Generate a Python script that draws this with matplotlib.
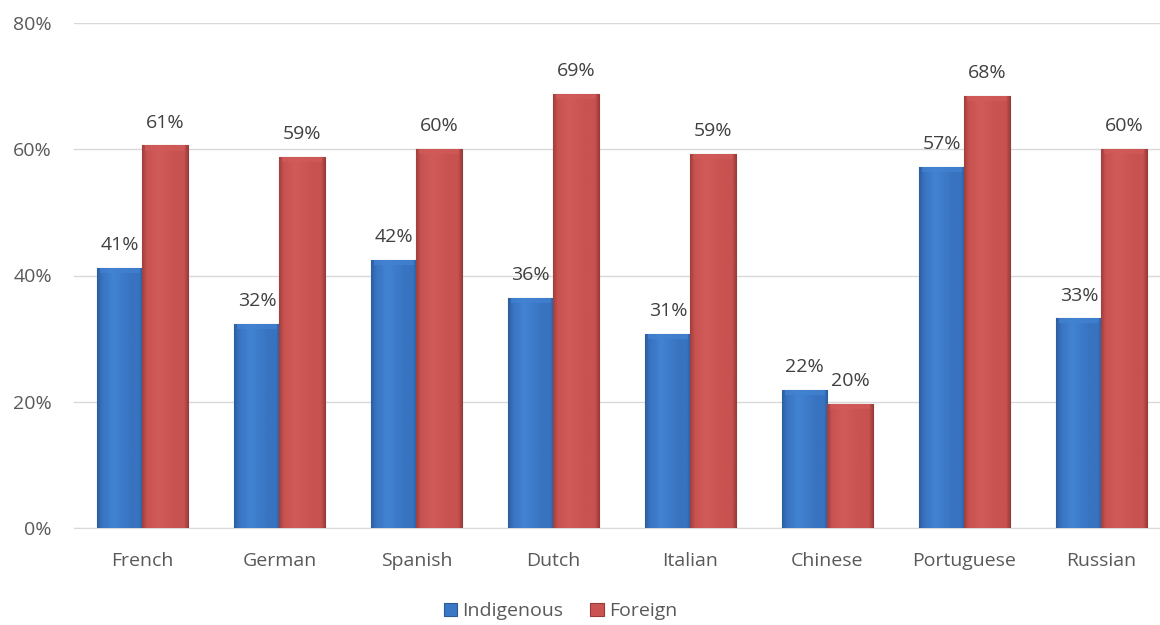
import numpy as np
import matplotlib
matplotlib.use("Agg")
from matplotlib import pyplot as plt
from matplotlib.colors import LinearSegmentedColormap

languages = ["French", "German", "Spanish", "Dutch", "Italian", "Chinese", "Portuguese", "Russian"]
indigenous = [41.2, 32.3, 42.4, 36.4, 30.8, 21.8, 57.2, 33.2]
foreign = [60.6, 58.8, 60.0, 68.8, 59.3, 19.7, 68.5, 60.0]
series_names = ["Indigenous", "Foreign"]

plt.rcParams['font.family'] = ['Open Sans', 'DejaVu Sans']
text_col = "#595959"

fig = plt.figure(figsize=(11.6, 6.25), dpi=100)
ax = fig.add_axes([74 / 1160, 97 / 625, 1086 / 1160, 505 / 625])

x = np.arange(len(languages))
w = 0.33
b1 = ax.bar(x - w / 2, indigenous, w, color="#3A77C6", edgecolor="#2B5A95", linewidth=0.8, zorder=3, label=series_names[0])
b2 = ax.bar(x + w / 2, foreign, w, color="#CB5452", edgecolor="#963B39", linewidth=0.8, zorder=3, label=series_names[1])

# fake the bevel look with a horizontal gradient clipped to each bar
def shade(bars, dark, mid, light):
    cmap = LinearSegmentedColormap.from_list("b", [(0, dark), (0.1, mid), (0.35, light), (0.75, mid), (0.92, mid), (1, dark)])
    grad = np.linspace(0, 1, 64).reshape(1, -1)
    for p in bars:
        x0, y0 = p.get_x(), p.get_y()
        im = ax.imshow(grad, cmap=cmap, aspect="auto", zorder=3.5,
                       extent=(x0, x0 + p.get_width(), y0, y0 + p.get_height()))
        im.set_clip_path(p)
        # lighter top cap
        ax.bar(x0 + p.get_width() / 2, 0.8, p.get_width() * 0.9, bottom=p.get_height() - 0.8,
               color=light, alpha=0.7, zorder=4, linewidth=0)

shade(b1, "#2D5E9F", "#3873C0", "#4283D2")
shade(b2, "#A0403E", "#C85250", "#D05B59")

for bars, vals in [(b1, indigenous), (b2, foreign)]:
    for p, v in zip(bars, vals):
        ax.annotate(f"{round(v):.0f}%", (p.get_x() + p.get_width() / 2, v),
                    xytext=(0, 10), textcoords="offset points", ha="center", va="bottom",
                    fontsize=14, color="#404040", zorder=5)

ax.set_xlim(-0.5, len(languages) - 0.5 - 10 / 137.7)
ax.set_ylim(0, 80)
ax.set_yticks([0, 20, 40, 60, 80])
ax.set_yticklabels([f"{t}%" for t in [0, 20, 40, 60, 80]])
ax.set_xticks(x)
ax.set_xticklabels(languages)
ax.tick_params(axis="y", length=0, pad=16, labelsize=14, labelcolor=text_col)
ax.tick_params(axis="x", length=0, pad=17, labelsize=14, labelcolor=text_col)
ax.grid(axis="y", color="#D9D9D9", linewidth=1, zorder=0)
for s in ["top", "right", "left"]:
    ax.spines[s].set_visible(False)
ax.spines["bottom"].set_color("#D9D9D9")
ax.set_axisbelow(True)

leg = fig.legend(handles=[b1, b2], labels=series_names, loc="center", bbox_to_anchor=(0.483, 0.022),
                 ncol=2, frameon=False, fontsize=14, handlelength=0.7, handleheight=0.7,
                 handletextpad=0.25, columnspacing=1.4)
for t in leg.get_texts():
    t.set_color(text_col)

fig.savefig("out.png", dpi=100)
